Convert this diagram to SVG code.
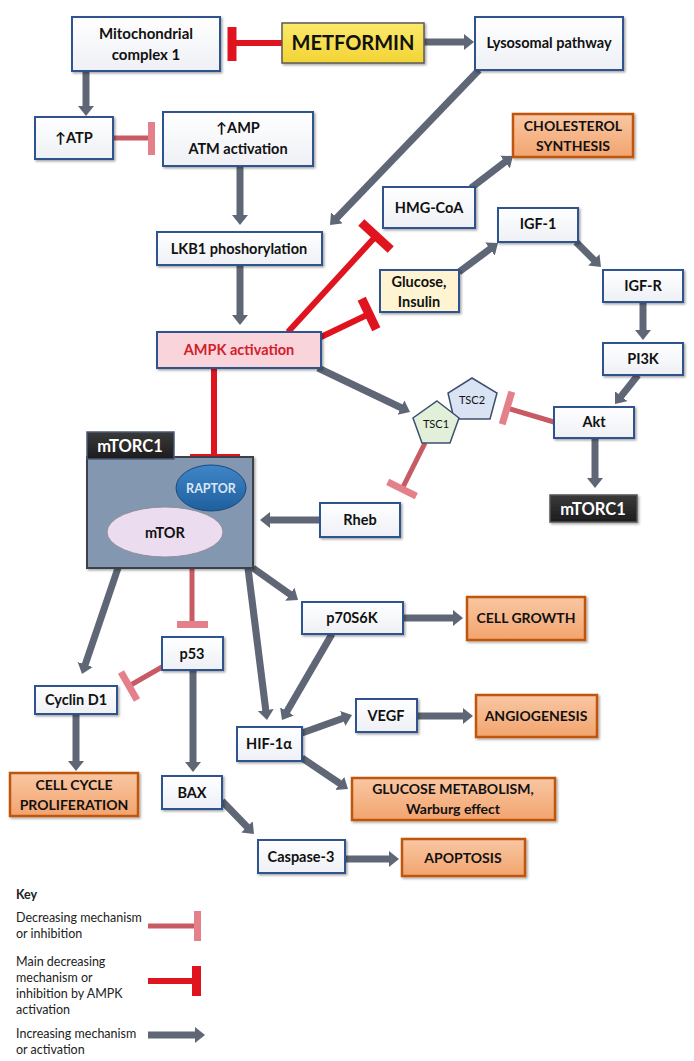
<svg xmlns="http://www.w3.org/2000/svg" width="694" height="1061" viewBox="0 0 694 1061">
<defs>
<linearGradient id="gW" x1="0" y1="0" x2="0" y2="1"><stop offset="0" stop-color="#ffffff"/><stop offset="1" stop-color="#eef0f5"/></linearGradient>
<linearGradient id="gO" x1="0" y1="0" x2="0" y2="1"><stop offset="0" stop-color="#f9c7a3"/><stop offset="1" stop-color="#f2a46e"/></linearGradient>
<linearGradient id="gY" x1="0" y1="0" x2="0" y2="1"><stop offset="0" stop-color="#fbe96a"/><stop offset="1" stop-color="#f2d434"/></linearGradient>
<linearGradient id="gD" x1="0" y1="0" x2="0" y2="1"><stop offset="0" stop-color="#3a3a3a"/><stop offset="1" stop-color="#1c1c1c"/></linearGradient>
<linearGradient id="gRap" x1="0" y1="0" x2="0" y2="1"><stop offset="0" stop-color="#3f86c8"/><stop offset="1" stop-color="#1f5f9e"/></linearGradient>
<filter id="sh" x="-10%" y="-10%" width="125%" height="135%"><feDropShadow dx="1.5" dy="1.5" stdDeviation="1" flood-color="#000" flood-opacity="0.35"/></filter>
<marker id="ah" markerUnits="userSpaceOnUse" markerWidth="11" markerHeight="17" refX="2" refY="8" orient="auto"><path d="M0,0 L10,8 L0,16 z" fill="#5f6676"/></marker>
<style>
.bw{fill:url(#gW);stroke:#2f528f;stroke-width:2;filter:url(#sh)}
.bo{fill:url(#gO);stroke:#c0550f;stroke-width:2.5;filter:url(#sh)}
.t{font-family:Lato,"Open Sans","Liberation Sans",sans-serif;font-weight:bold;font-size:14.5px;fill:#111;text-anchor:middle}
.to{font-size:14px}
.tw{fill:#fff}
.k{font-family:Lato,"Open Sans","Liberation Sans",sans-serif;font-size:12.5px;fill:#222}
.a{stroke:#5f6676;stroke-width:7;fill:none;marker-end:url(#ah)}
.r{stroke:#e0141e;stroke-width:6;fill:none}
.rb{stroke:#e0141e;stroke-width:9;fill:none}
.p{stroke:#c85a64;stroke-width:5;fill:none}
.pb{stroke:#e4808a;stroke-width:7;fill:none}
</style>
</defs>
<rect width="694" height="1061" fill="#fff"/>

<g id="connectors">
<line class="a" x1="424" y1="42" x2="466" y2="42"/>
<line class="a" x1="86" y1="71" x2="86" y2="108"/>
<line class="a" x1="240" y1="166" x2="240" y2="217"/>
<line class="a" x1="479" y1="70" x2="335.5" y2="219.2"/>
<line class="a" x1="240" y1="265" x2="240" y2="317"/>
<line class="a" x1="471" y1="188" x2="506.6" y2="160.8"/>
<line class="a" x1="318" y1="368" x2="402.8" y2="408.5"/>
<line class="a" x1="459" y1="272" x2="491.6" y2="247.8"/>
<line class="a" x1="576" y1="242" x2="595.3" y2="261.3"/>
<line class="a" x1="643" y1="302" x2="643" y2="332"/>
<line class="a" x1="638" y1="375" x2="620" y2="397.7"/>
<line class="a" x1="595" y1="438" x2="595" y2="480"/>
<line class="a" x1="320" y1="520" x2="268" y2="520"/>
<line class="a" x1="118" y1="568" x2="84.6" y2="666.4"/>
<line class="a" x1="248" y1="568" x2="266" y2="712"/>
<line class="a" x1="253" y1="568" x2="291.5" y2="595.4"/>
<line class="a" x1="403" y1="618" x2="455" y2="618"/>
<line class="a" x1="332" y1="634" x2="286" y2="713.1"/>
<line class="a" x1="76" y1="714" x2="76" y2="763"/>
<line class="a" x1="193" y1="670" x2="193" y2="764"/>
<line class="a" x1="302" y1="733" x2="344.5" y2="717.7"/>
<line class="a" x1="417" y1="716" x2="465" y2="716"/>
<line class="a" x1="302" y1="758" x2="341.4" y2="784.5"/>
<line class="a" x1="222" y1="801" x2="248.4" y2="828.3"/>
<line class="a" x1="345" y1="859" x2="391" y2="859"/>
<line class="r" x1="282" y1="43" x2="232" y2="43"/>
<line class="rb" x1="232" y1="27" x2="232" y2="61"/>
<line class="r" x1="214" y1="368" x2="214" y2="457"/>
<line class="rb" x1="190" y1="458.5" x2="240" y2="458.5"/>
<line class="r" x1="288" y1="332" x2="376" y2="236"/>
<line class="rb" x1="361.3" y1="222.5" x2="390.7" y2="249.5"/>
<line class="r" x1="321" y1="337" x2="369" y2="314"/>
<line class="rb" x1="361.7" y1="298.7" x2="376.3" y2="329.3"/>
<line class="p" x1="113" y1="138" x2="151" y2="138"/>
<line class="pb" x1="151.5" y1="122" x2="151.5" y2="155"/>
<line class="p" x1="554" y1="422" x2="507" y2="408"/>
<line class="pb" x1="511.8" y1="391.7" x2="502.2" y2="424.3"/>
<line class="p" x1="425" y1="443" x2="402" y2="489"/>
<line class="pb" x1="387.7" y1="481.8" x2="416.3" y2="496.2"/>
<line class="p" x1="192" y1="568" x2="192" y2="624"/>
<line class="pb" x1="177" y1="624.5" x2="208" y2="624.5"/>
<line class="p" x1="162" y1="667" x2="129" y2="686"/>
<line class="pb" x1="121" y1="672" x2="137" y2="700"/>
</g>

<g id="metformin"><rect x="282" y="23" width="142" height="40" fill="url(#gY)" stroke="#5a5a5a" stroke-width="1.5" filter="url(#sh)"/><text class="t" x="353" y="50" style="font-size:20px">METFORMIN</text></g>
<g id="mito"><rect class="bw" x="72" y="17" width="148" height="54"/><text class="t" x="146" y="39" style="font-size:15px">Mitochondrial</text><text class="t" x="146" y="60" style="font-size:15px">complex 1</text></g>
<g id="lysosomal"><rect class="bw" x="475" y="17" width="148" height="53"/><text class="t" x="549" y="48">Lysosomal pathway</text></g>
<g id="atp"><rect class="bw" x="35" y="117" width="78" height="42"/><text class="t" x="74" y="143">↑ATP</text></g>
<g id="amp"><rect class="bw" x="163" y="112" width="150" height="54"/><text class="t" x="238" y="133">↑AMP</text><text class="t" x="238" y="154">ATM activation</text></g>
<g id="cholesterol"><rect class="bo" x="513" y="114" width="120" height="43"/><text class="t to" x="573" y="131">CHOLESTEROL</text><text class="t to" x="573" y="151">SYNTHESIS</text></g>
<g id="hmgcoa"><rect class="bw" x="383" y="187" width="92" height="41"/><text class="t" x="429" y="213">HMG-CoA</text></g>
<g id="lkb1"><rect class="bw" x="157" y="232" width="165" height="33"/><text class="t" x="239" y="254">LKB1 phoshorylation</text></g>
<g id="glucose"><rect x="380" y="270" width="79" height="42" fill="#fff4d2" stroke="#2f528f" stroke-width="2" filter="url(#sh)"/><text class="t" x="419" y="287">Glucose,</text><text class="t" x="419" y="307">Insulin</text></g>
<g id="igf1"><rect class="bw" x="498" y="208" width="80" height="34"/><text class="t" x="538" y="229">IGF-1</text></g>
<g id="igfr"><rect class="bw" x="603" y="270" width="80" height="32"/><text class="t" x="643" y="291">IGF-R</text></g>
<g id="pi3k"><rect class="bw" x="603" y="343" width="80" height="32"/><text class="t" x="643" y="364">PI3K</text></g>
<g id="ampk"><rect x="157" y="332" width="164" height="36" fill="#f9d4da" stroke="#2f528f" stroke-width="2" filter="url(#sh)"/><text class="t" x="239" y="355" style="fill:#d3202b">AMPK activation</text></g>
<g id="akt"><rect class="bw" x="554" y="407" width="80" height="31"/><text class="t" x="594" y="427">Akt</text></g>
<g id="tsc"><polygon points="472,378 497,393 490,419 454,419 448,393" fill="#dae3f3" stroke="#3c4f70" stroke-width="1.5"/><text class="t" x="472" y="404" style="font-size:11px;font-weight:normal">TSC2</text><polygon points="437,401 459,418 450,443 422,443 413,418" fill="#e2efd9" stroke="#3c4f70" stroke-width="1.5"/><text class="t" x="436" y="428" style="font-size:11px;font-weight:normal">TSC1</text></g>
<g id="mtorc1-right"><rect x="550" y="495" width="87" height="27" fill="url(#gD)" stroke="#555" stroke-width="1.5" filter="url(#sh)"/><text class="t tw" x="593" y="515" style="font-size:16.5px">mTORC1</text></g>
<g id="mtorc1"><rect x="87" y="457" width="166" height="111" fill="#8497b0" stroke="#3a3f48" stroke-width="2" filter="url(#sh)"/><rect x="87" y="432" width="87" height="27" fill="url(#gD)" stroke="#4a5a78" stroke-width="1.5"/><text class="t tw" x="130" y="452" style="font-size:16.5px">mTORC1</text><ellipse cx="211" cy="488" rx="35" ry="23" fill="url(#gRap)" stroke="#1a4a7a" stroke-width="1"/><text class="t" x="211" y="493" style="fill:#dbe6f5;font-size:12.5px">RAPTOR</text><ellipse cx="165" cy="532" rx="58" ry="25" fill="#ecdcef" stroke="#8f8f9a" stroke-width="1"/><text class="t" x="165" y="538">mTOR</text></g>
<g id="rheb"><rect class="bw" x="320" y="503" width="80" height="34"/><text class="t" x="360" y="525">Rheb</text></g>
<g id="p70s6k"><rect class="bw" x="302" y="602" width="101" height="32"/><text class="t" x="352" y="623">p70S6K</text></g>
<g id="cellgrowth"><rect class="bo" x="467" y="597" width="118" height="43"/><text class="t to" x="526" y="623">CELL GROWTH</text></g>
<g id="p53"><rect class="bw" x="162" y="637" width="61" height="33"/><text class="t" x="192" y="659">p53</text></g>
<g id="cyclind1"><rect class="bw" x="35" y="686" width="82" height="28"/><text class="t" x="76" y="705">Cyclin D1</text></g>
<g id="cellcycle"><rect class="bo" x="10" y="773" width="128" height="43"/><text class="t to" x="74" y="790">CELL CYCLE</text><text class="t to" x="74" y="810">PROLIFERATION</text></g>
<g id="hif1a"><rect class="bw" x="237" y="727" width="65" height="34"/><text class="t" x="269" y="749">HIF-1α</text></g>
<g id="vegf"><rect class="bw" x="356" y="699" width="61" height="33"/><text class="t" x="386" y="721">VEGF</text></g>
<g id="angiogenesis"><rect class="bo" x="476" y="695" width="121" height="42"/><text class="t to" x="536" y="721">ANGIOGENESIS</text></g>
<g id="glucosemet"><rect class="bo" x="352" y="778" width="203" height="42"/><text class="t to" x="453" y="794">GLUCOSE METABOLISM,</text><text class="t to" x="453" y="814">Warburg effect</text></g>
<g id="bax"><rect class="bw" x="162" y="776" width="60" height="33"/><text class="t" x="192" y="798">BAX</text></g>
<g id="caspase3"><rect class="bw" x="258" y="840" width="87" height="33"/><text class="t" x="301" y="862">Caspase-3</text></g>
<g id="apoptosis"><rect class="bo" x="402" y="839" width="123" height="37"/><text class="t to" x="463" y="863">APOPTOSIS</text></g>

<g id="key">
<text class="k" x="16" y="899" style="font-weight:bold">Key</text>
<text class="k" x="16" y="922">Decreasing mechanism</text>
<text class="k" x="16" y="938">or inhibition</text>
<line class="p" x1="148" y1="926" x2="196" y2="926"/>
<line class="pb" x1="197.5" y1="911" x2="197.5" y2="941"/>
<text class="k" x="16" y="966">Main decreasing</text>
<text class="k" x="16" y="982">mechanism or</text>
<text class="k" x="16" y="998">inhibition by AMPK</text>
<text class="k" x="16" y="1014">activation</text>
<line class="r" x1="148" y1="981" x2="194" y2="981"/>
<line class="rb" x1="196.5" y1="966" x2="196.5" y2="996"/>
<text class="k" x="16" y="1038">Increasing mechanism</text>
<text class="k" x="16" y="1054">or activation</text>
<line class="a" x1="148" y1="1035" x2="197" y2="1035"/>
</g>
</svg>
